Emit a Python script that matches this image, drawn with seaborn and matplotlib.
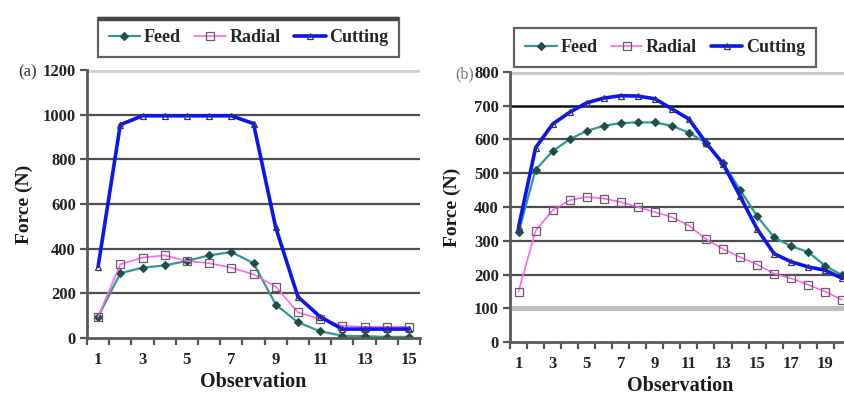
import numpy as np
import pandas as pd
import matplotlib
matplotlib.use("Agg")
import matplotlib.pyplot as plt
from matplotlib.lines import Line2D
import seaborn as sns

sns.set_theme(style="white")
plt.rcParams["font.family"] = ["Liberation Serif", "DejaVu Serif"]
plt.rcParams["font.weight"] = "bold"

# ---- data -------------------------------------------------------------
obs_a = list(range(1, 16))
feed_a = [95, 290, 315, 325, 345, 370, 385, 335, 150, 70, 30, 10, 8, 5, 5]
radial_a = [95, 330, 360, 370, 345, 335, 315, 285, 230, 115, 85, 55, 50, 50, 50]
cutting_a = [320, 955, 995, 995, 995, 995, 995, 960, 495, 185, 95, 40, 40, 40, 40]

obs_b = list(range(1, 21))
feed_b = [325, 510, 565, 600, 625, 640, 648, 650, 650, 640,
          620, 590, 530, 451, 373, 310, 284, 267, 226, 198]
radial_b = [150, 330, 390, 420, 430, 425, 415, 400, 385, 370,
            345, 305, 276, 252, 230, 203, 189, 170, 150, 125]
cutting_b = [340, 575, 645, 680, 708, 722, 729, 728, 720, 690,
             660, 590, 528, 432, 335, 262, 238, 223, 213, 189]

series_names = ["Feed", "Radial", "Cutting"]
y_ticks_a = [0, 200, 400, 600, 800, 1000, 1200]
y_ticks_b = [0, 100, 200, 300, 400, 500, 600, 700, 800]

# ---- styles -----------------------------------------------------------
styles = {
    "Feed": dict(color="#2f9a90", lw=1.6, marker="D", ms=4.5,
                 mfc="#1f4f4a", mec="#1f4f4a", mew=0.8),
    "Radial": dict(color="#ff66f0", lw=1.2, marker="s", ms=5.5,
                   mfc="none", mec="#6a5a6a", mew=0.9),
    "Cutting": dict(color="#0a14f5", lw=2.6, marker="^", ms=5,
                    mfc="none", mec="#333366", mew=0.9),
}

W, H = 844, 403
fig = plt.figure(figsize=(W / 100, H / 100), dpi=100)


def px_axes(left, top, right, bottom):
    return fig.add_axes([left / W, 1 - bottom / H, (right - left) / W, (bottom - top) / H])


ax_a = px_axes(87, 70, 420, 338)
ax_b = px_axes(510, 71.7, 850.8, 342.3)

tick_font = dict(fontsize=12, fontweight="bold", color="#222222")


def draw_panel(ax, obs, values, yticks, grid_style, legend_anchor):
    df = pd.DataFrame({"Observation": obs})
    for name, vals in zip(series_names, values):
        df[name] = vals
    for name in series_names:
        st = styles[name]
        sns.lineplot(data=df, x="Observation", y=name, ax=ax, label=name,
                     color=st["color"], linewidth=st["lw"], marker=st["marker"],
                     markersize=st["ms"], markerfacecolor=st["mfc"],
                     markeredgecolor=st["mec"], markeredgewidth=st["mew"])

    n = len(obs)
    ax.set_xlim(0.5, n + 0.5)
    ax.set_ylim(yticks[0], yticks[-1])
    ax.set_yticks(yticks)
    ax.set_yticklabels([str(t) for t in yticks], **tick_font)

    # category labels on odd observations, tick marks between categories
    ax.set_xticks(obs[::2])
    ax.set_xticklabels([str(o) for o in obs[::2]], **tick_font)
    ax.set_xticks(np.arange(0.5, n + 1.0, 1.0), minor=True)
    ax.tick_params(axis="x", which="major", length=0, pad=10)
    ax.tick_params(axis="x", which="minor", length=5, width=1.6,
                   color="#555555", direction="out", bottom=True)
    ax.tick_params(axis="y", which="major", length=5, width=1.6,
                   color="#555555", direction="out", left=True, pad=3)

    # horizontal gridlines, one per y tick
    for t in ax.get_yticks()[1:]:
        color, lw = grid_style.get(t, ("#4d4d4d", 1.6))
        ax.axhline(t, color=color, lw=lw, zorder=0.5)

    for side in ("top", "right"):
        ax.spines[side].set_visible(False)
    for side in ("left", "bottom"):
        ax.spines[side].set_color("#5a5a5a")
        ax.spines[side].set_linewidth(2.0)

    ax.set_xlabel("Observation", fontsize=14.5, fontweight="bold",
                  color="#1a1a1a", labelpad=3)
    ax.set_ylabel("Force (N)", fontsize=14, fontweight="bold", color="#1a1a1a")

    leg = ax.legend(loc="lower center", bbox_to_anchor=legend_anchor, ncol=3,
                    frameon=True, fancybox=False,
                    prop=dict(weight="bold", size=13), handlelength=1.75,
                    handletextpad=0.2, columnspacing=0.75, borderpad=0.6,
                    borderaxespad=0)
    frame = leg.get_frame()
    frame.set_edgecolor("#3a3a3a")
    frame.set_linewidth(1.6)
    frame.set_facecolor("white")
    return leg


leg_a = draw_panel(ax_a, obs_a, [feed_a, radial_a, cutting_a], y_ticks_a,
                   {1200: ("#cfcfcf", 4.0)}, (0.485, 1.048))
leg_b = draw_panel(ax_b, obs_b, [feed_b, radial_b, cutting_b], y_ticks_b,
                   {800: ("#c8c8c8", 4.5), 100: ("#bdbdbd", 3.5), 700: ("#111111", 1.8)},
                   (0.455, 1.018))

ax_a.yaxis.set_label_coords(-54 / 333, 0.5)
ax_b.yaxis.set_label_coords(-49 / 340.8, 0.5)

fig.text(18 / W, 1 - 72 / H, "(a)", fontsize=12, fontweight="normal",
         color="#333333", va="center", ha="left")
fig.text(455 / W, 1 - 74 / H, "(b)", fontsize=11.5, fontweight="normal",
         color="#777777", va="center", ha="left")

# heavy top edge on the left legend box
fig.canvas.draw()
bb = leg_a.get_frame().get_window_extent()
fig.add_artist(Line2D([bb.x0 / W, bb.x1 / W], [(bb.y1 - 1) / H, (bb.y1 - 1) / H],
                      transform=fig.transFigure, color="#444444", lw=3.2,
                      solid_capstyle="butt"))

fig.savefig("out.png", dpi=100)
